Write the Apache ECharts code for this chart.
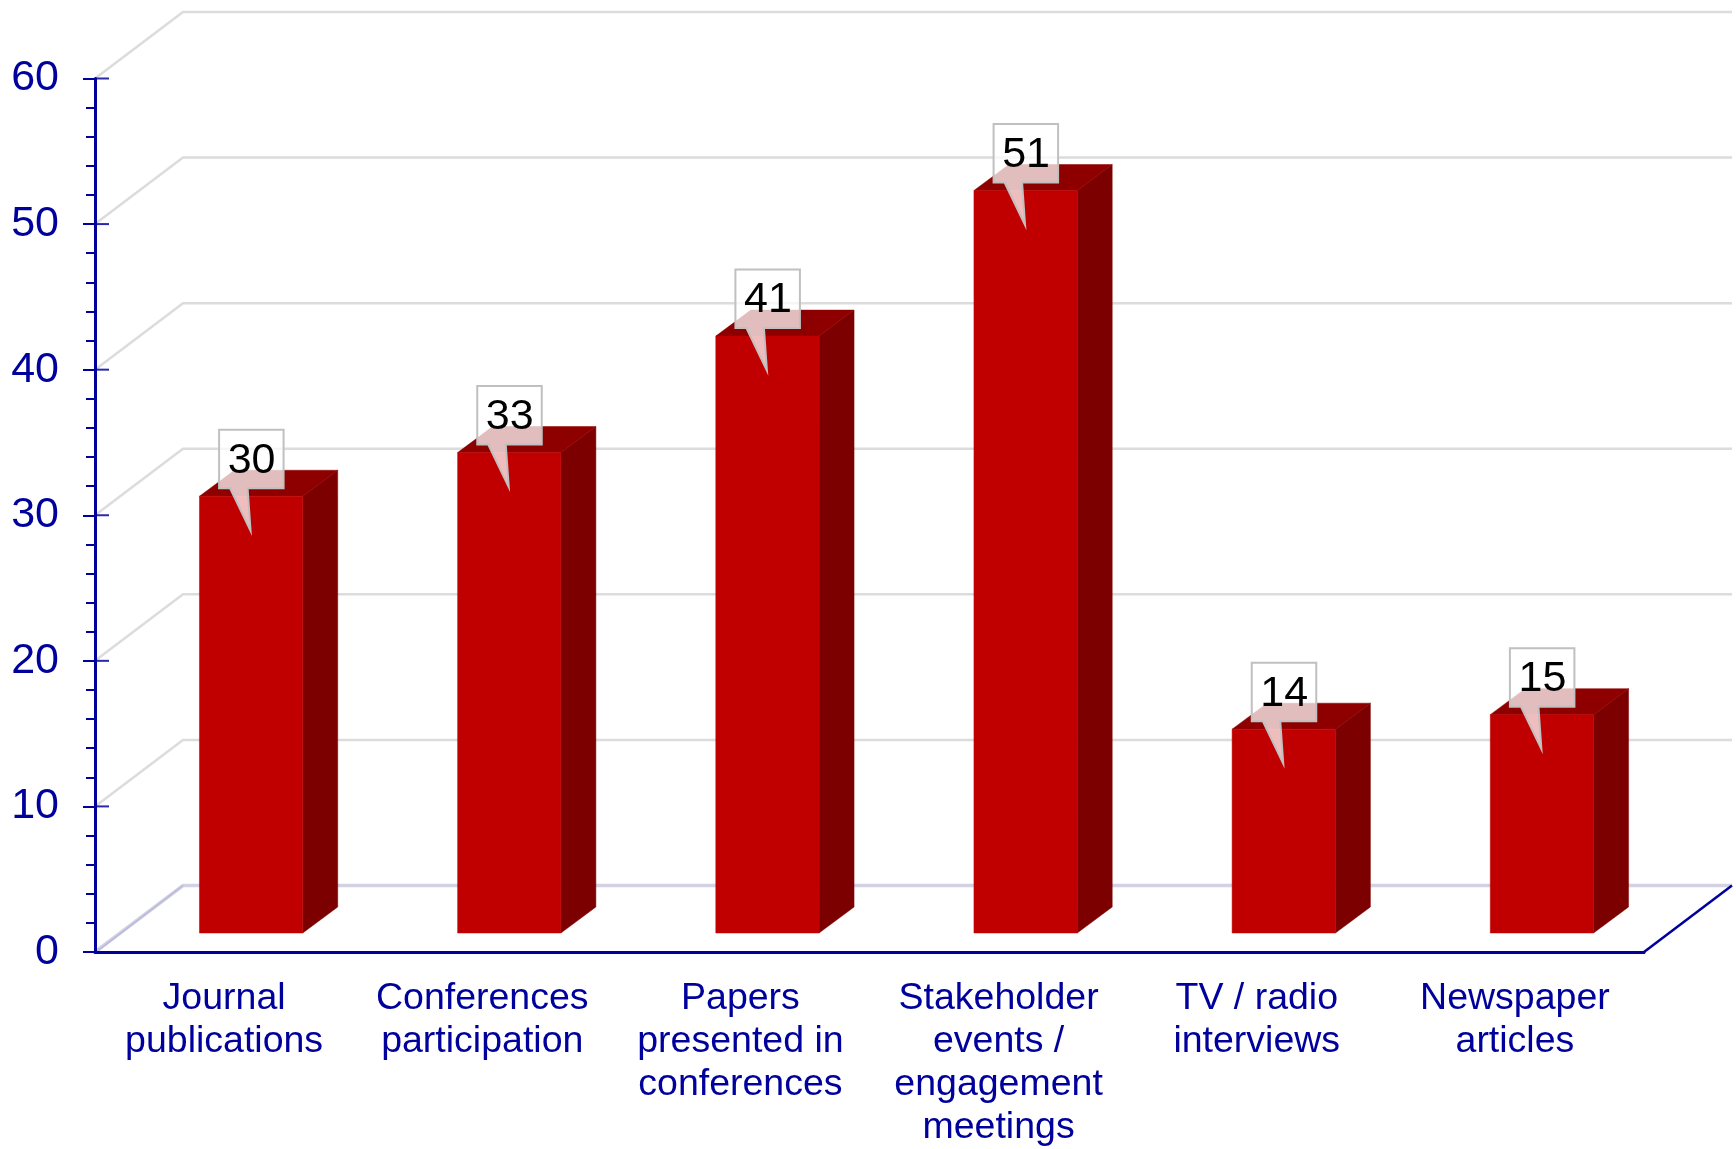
<!DOCTYPE html>
<html>
<head>
<meta charset="utf-8">
<style>html,body{margin:0;padding:0;background:#fff}#c{width:1736px;height:1149px}</style>
<script src="https://cdn.jsdelivr.net/npm/echarts@6/dist/echarts.min.js"></script>
</head>
<body>
<div id="c"></div>
<script>
const categories = ['Journal\npublications', 'Conferences\nparticipation', 'Papers\npresented in\nconferences', 'Stakeholder\nevents /\nengagement\nmeetings', 'TV / radio\ninterviews', 'Newspaper\narticles'];
const values = [30, 33, 41, 51, 14, 15];
const yTicks = [0, 10, 20, 30, 40, 50, 60];

const BLUE = '#00009c', FONT = '"Liberation Sans", Arial, sans-serif';
const WALL_DX = 88, WALL_DY = -66.5, BAR_DX = 35, BAR_DY = -26, BAR_SHIFT_X = 27, BAR_SHIFT_Y = -19;

const chart = echarts.init(document.getElementById('c'));

function poly(points, fill, z2) {
  return {type: 'polygon', z2: z2 || 0, shape: {points}, style: {fill, stroke: fill, lineWidth: 0.5}};
}
function line(points, stroke, lineWidth, z2) {
  return {type: 'polyline', z2: z2 || 0, shape: {points}, style: {fill: 'none', stroke, lineWidth}};
}

function renderWall(params, api) {
  const v = api.value(0);
  const cs = params.coordSys;
  const y = api.coord([0, v])[1];
  const x0 = cs.x, x1 = cs.x + cs.width;
  const children = [];
  if (v === 0) {
    children.push(line([[x0, y], [x0 + WALL_DX, y + WALL_DY], [x1 + WALL_DX, y + WALL_DY]], '#d2d2e4', 3.5));
    children.push(line([[x0 + 1, y], [x0 + WALL_DX, y + WALL_DY]], '#b8b8d8', 1.5, 1));
    children.push(line([[x1, y], [x1 + WALL_DX, y + WALL_DY]], BLUE, 2.5, 1));
  } else {
    children.push(line([[x0, y], [x0 + WALL_DX, y + WALL_DY], [x1 + WALL_DX, y + WALL_DY]], '#dcdcdc', 2.5));
  }
  children.push(line([[x0, y], [x0 + 14, y]], '#2a2aa8', 2, 2));
  return {type: 'group', children};
}

function renderBar(params, api) {
  const top = api.coord([api.value(0), api.value(1)]);
  const base = api.coord([api.value(0), 0]);
  const w = api.size([1, 0])[0] * 0.4;
  const l = top[0] - w / 2 + BAR_SHIFT_X, r = l + w;
  const t = top[1] + BAR_SHIFT_Y, b = base[1] + BAR_SHIFT_Y;
  return {type: 'group', children: [
    poly([[r, t], [r + BAR_DX, t + BAR_DY], [r + BAR_DX, b + BAR_DY], [r, b]], '#7c0000'),
    poly([[l, t], [l + BAR_DX, t + BAR_DY], [r + BAR_DX, t + BAR_DY], [r, t]], '#8e0000'),
    poly([[l, t], [r, t], [r, b], [l, b]], '#c00000')
  ]};
}

function renderCallout(params, api) {
  const top = api.coord([api.value(0), api.value(1)]);
  const cx = top[0] + BAR_SHIFT_X, t = top[1] + BAR_SHIFT_Y;
  const bx = cx - 32, bw = 64.5, by = t - 66.5, bh = 58.5;
  return {type: 'group', children: [
    {type: 'polygon', shape: {points: [
      [bx, by], [bx + bw, by], [bx + bw, by + bh], [cx - 3.5, by + bh], [cx - 0.5, t + 34.5],
      [cx - 21, by + bh], [bx, by + bh]
    ]}, style: {fill: 'rgba(255,255,255,0.74)', stroke: '#c0c0c0', lineWidth: 2}},
    {type: 'text', z2: 5, style: {
      x: cx + 0.5, y: by + 31, text: String(api.value(1)), fill: '#000', font: '43px ' + FONT,
      align: 'center', verticalAlign: 'middle'
    }}
  ]};
}

chart.setOption({
  animation: false,
  backgroundColor: '#fff',
  grid: {left: 95, right: 92, top: 78.5, bottom: 191.5, containLabel: false},
  xAxis: {
    type: 'category', data: categories, z: 6,
    axisLine: {show: true, lineStyle: {color: BLUE, width: 3}},
    axisTick: {show: false},
    axisLabel: {interval: 0, margin: 25, color: BLUE, fontFamily: FONT, fontSize: 37.5, lineHeight: 43, align: 'center', hideOverlap: false},
    splitLine: {show: false}
  },
  yAxis: {
    type: 'value', min: 0, max: 60, interval: 10, z: 6,
    axisLine: {show: true, lineStyle: {color: BLUE, width: 3}},
    axisTick: {show: true, length: 12, lineStyle: {color: BLUE, width: 2}},
    minorTick: {show: true, splitNumber: 5, length: 9, lineStyle: {color: BLUE, width: 2}},
    axisLabel: {margin: 36, color: BLUE, fontFamily: FONT, fontSize: 43, padding: [4, 0, 0, 0]},
    splitLine: {show: false}
  },
  series: [
    {type: 'custom', name: 'Walls', coordinateSystem: 'cartesian2d', clip: false, z: 1, silent: true,
      data: yTicks.map(v => [v]), encode: {y: 0}, renderItem: renderWall},
    {type: 'custom', name: 'Bars', coordinateSystem: 'cartesian2d', clip: false, z: 2, silent: true,
      data: values.map((v, i) => [i, v]), encode: {x: 0, y: 1}, renderItem: renderBar},
    {type: 'custom', name: 'Callouts', coordinateSystem: 'cartesian2d', clip: false, z: 3, silent: true,
      data: values.map((v, i) => [i, v]), encode: {x: 0, y: 1}, renderItem: renderCallout}
  ]
});
</script>
</body>
</html>
